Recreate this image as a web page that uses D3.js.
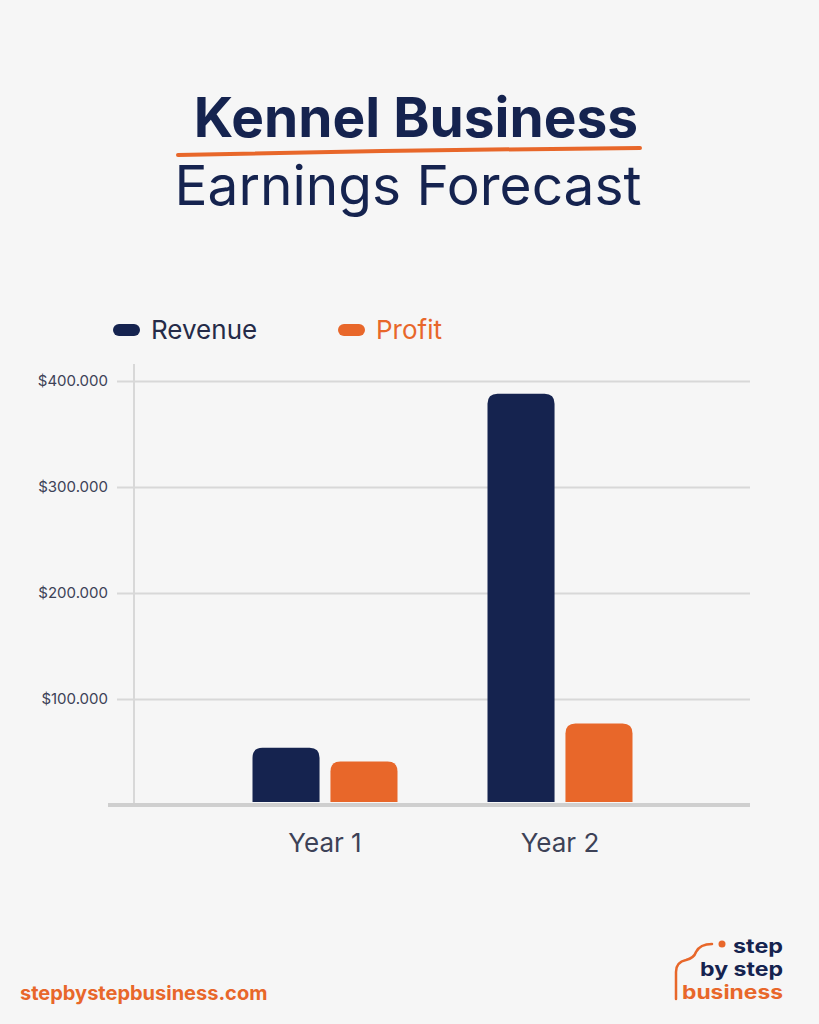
<!DOCTYPE html>
<html>
<head>
<meta charset="utf-8">
<script src="https://cdn.jsdelivr.net/npm/d3@7"></script>
<style>
  html, body { margin: 0; padding: 0; background: #f6f6f6; }
  svg { display: block; font-family: Inter, "Noto Sans", sans-serif; }
</style>
</head>
<body>
<script>
// chart data
var years = ["Year 1", "Year 2"];
var series = ["Revenue", "Profit"];
var revenue = [54000, 388000];
var profit = [41000, 77000];
var yTicks = [100000, 200000, 300000, 400000];
var tickLabels = ["$100.000", "$200.000", "$300.000", "$400.000"];

var navy = "#15234f",
    orange = "#e8672a";

var width = 819,
    height = 1024;

var svg = d3.select("body")
    .append("svg")
    .attr("width", width)
    .attr("height", height);

svg.append("rect")
    .attr("width", width)
    .attr("height", height)
    .attr("fill", "#f6f6f6");

// title
svg.append("text")
    .attr("x", 416)
    .attr("y", 137)
    .attr("text-anchor", "middle")
    .attr("font-size", 55)
    .attr("font-weight", 700)
    .attr("fill", navy)
    .text("Kennel Business");

svg.append("path")
    .attr("d", "M178,155 Q410,150 640,148")
    .attr("fill", "none")
    .attr("stroke", orange)
    .attr("stroke-width", 4)
    .attr("stroke-linecap", "round");

svg.append("text")
    .attr("x", 408)
    .attr("y", 205)
    .attr("text-anchor", "middle")
    .attr("font-size", 55)
    .attr("font-weight", 400)
    .attr("fill", navy)
    .text("Earnings Forecast");

// scales
var y = d3.scaleLinear()
    .domain([0, 400000])
    .range([805, 381]);

var x0 = d3.scaleBand()
    .domain(years)
    .range([207.5, 677.5])
    .padding(0);

var x1 = d3.scaleBand()
    .domain(series)
    .range([x0.bandwidth() / 2 - 72.5, x0.bandwidth() / 2 + 72.5])
    .paddingInner(0.14);

var color = d3.scaleOrdinal()
    .domain(series)
    .range([navy, orange]);

// gridlines + y labels
var yAxis = svg.append("g")
    .attr("transform", "translate(117,0)")
    .call(d3.axisLeft(y)
        .tickValues(yTicks)
        .tickSize(-633)
        .tickPadding(9)
        .tickFormat(function(d, i) { return tickLabels[i]; }));

yAxis.select(".domain").remove();
yAxis.selectAll(".tick line")
    .attr("stroke", "#d8d8d8")
    .attr("stroke-width", 2);
yAxis.selectAll(".tick text")
    .attr("font-family", "Inter, sans-serif")
    .attr("font-size", 15)
    .attr("fill", "#3d4257");

// vertical axis line
svg.append("line")
    .attr("x1", 134).attr("x2", 134)
    .attr("y1", 364).attr("y2", 805)
    .attr("stroke", "#d8d8d8")
    .attr("stroke-width", 2);

// bars
var rows = years.map(function(yr, i) {
    return { year: yr, values: [
        { key: "Revenue", value: revenue[i] },
        { key: "Profit", value: profit[i] }
    ]};
});

var r = 10;
function barPath(x, top, w, bottom) {
    return "M" + x + "," + bottom +
        "V" + (top + r) +
        "Q" + x + "," + top + " " + (x + r) + "," + top +
        "H" + (x + w - r) +
        "Q" + (x + w) + "," + top + " " + (x + w) + "," + (top + r) +
        "V" + bottom + "Z";
}

svg.append("g")
    .selectAll("g")
    .data(rows)
    .join("g")
    .attr("transform", function(d) { return "translate(" + x0(d.year) + ",0)"; })
    .selectAll("path")
    .data(function(d) { return d.values; })
    .join("path")
    .attr("d", function(d) {
        return barPath(x1(d.key), y(d.value), x1.bandwidth(), 802);
    })
    .attr("fill", function(d) { return color(d.key); });

// baseline
svg.append("line")
    .attr("x1", 108).attr("x2", 750)
    .attr("y1", 805).attr("y2", 805)
    .attr("stroke", "#cfcfcf")
    .attr("stroke-width", 4);

// x labels
var xAxis = svg.append("g")
    .attr("transform", "translate(0,805)")
    .call(d3.axisBottom(x0).tickSize(0).tickPadding(29));
xAxis.select(".domain").remove();
xAxis.selectAll(".tick text")
    .attr("font-family", "Inter, sans-serif")
    .attr("font-size", 26)
    .attr("fill", "#3d4257");

// legend
var legendX = [113, 338];
var legend = svg.append("g")
    .selectAll("g")
    .data(series)
    .join("g")
    .attr("transform", function(d, i) { return "translate(" + legendX[i] + ",330)"; });

legend.append("rect")
    .attr("x", 0).attr("y", -6)
    .attr("width", 27).attr("height", 12)
    .attr("rx", 6)
    .attr("fill", function(d) { return color(d); });

legend.append("text")
    .attr("x", 38)
    .attr("y", 9)
    .attr("font-size", 26)
    .attr("fill", function(d, i) { return i === 0 ? "#252b48" : orange; })
    .text(function(d) { return d; });

// footer
svg.append("text")
    .attr("x", 20)
    .attr("y", 1000)
    .attr("font-size", 20)
    .attr("font-weight", 700)
    .attr("fill", orange)
    .text("stepbystepbusiness.com");

// logo
var logo = svg.append("g");
logo.append("path")
    .attr("d", "M676,999 V972 Q676,962 686,960 Q694,958 696,952 Q700,944 712,944")
    .attr("fill", "none")
    .attr("stroke", orange)
    .attr("stroke-width", 2.5)
    .attr("stroke-linecap", "round");
logo.append("circle")
    .attr("cx", 722).attr("cy", 944).attr("r", 3.5)
    .attr("fill", orange);

var logoLines = [
    { t: "step", y: 953, c: navy, w: 50 },
    { t: "by step", y: 976, c: navy, w: 83 },
    { t: "business", y: 999, c: orange, w: 101 }
];
logo.selectAll("text")
    .data(logoLines)
    .join("text")
    .attr("x", 783)
    .attr("y", function(d) { return d.y; })
    .attr("text-anchor", "end")
    .attr("font-size", 19)
    .attr("font-weight", 700)
    .attr("textLength", function(d) { return d.w; })
    .attr("lengthAdjust", "spacingAndGlyphs")
    .attr("fill", function(d) { return d.c; })
    .text(function(d) { return d.t; });
</script>
</body>
</html>
